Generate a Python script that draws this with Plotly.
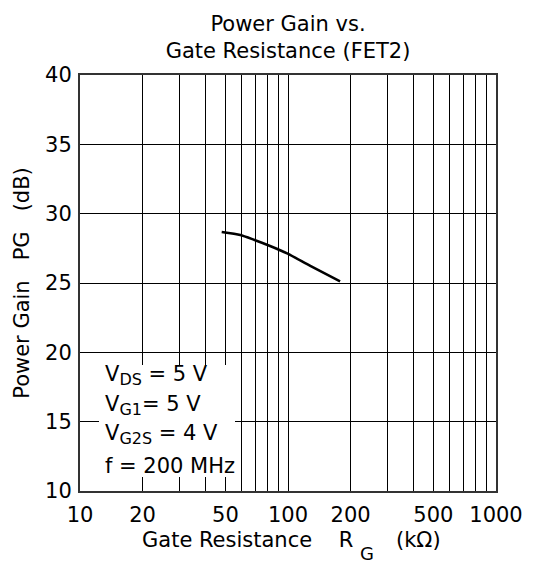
import plotly.graph_objects as go

# Data
rg_kohm = [48, 59, 69, 82, 99, 128, 178]
pg_db = [28.68, 28.46, 28.10, 27.67, 27.14, 26.23, 25.12]

x_grid_vals = [10, 20, 30, 40, 50, 60, 70, 80, 90, 100, 200, 300, 400, 500, 600, 700, 800, 900, 1000]
x_labels = {10: "10", 20: "20", 50: "50", 100: "100", 200: "200", 500: "500", 1000: "1000"}
y_ticks = [10, 15, 20, 25, 30, 35, 40]

SUB = "<sub><span style='font-size:16px'>{}</span></sub>"
cond_lines = [
    "V" + SUB.format("DS") + " = 5 V",
    "V" + SUB.format("G1") + "= 5 V",
    "V" + SUB.format("G2S") + " = 4 V",
    "f = 200 MHz",
]

FONT = "DejaVu Sans, Arial, sans-serif"
FS = 21
NB = "\u00a0"

# plot-area geometry in pixels
L, R, T, B = 80, 45, 75, 72
W, H = 541, 563
PW, PH = W - L - R, H - T - B


def px_x(px):
    return (px - L) / PW


def px_y(py):
    return (H - B - py) / PH


fig = go.Figure()
fig.add_trace(go.Scatter(
    x=rg_kohm, y=pg_db, mode="lines",
    line=dict(color="black", width=2.5, shape="spline", smoothing=0.6),
    hoverinfo="skip", showlegend=False,
))

fig.update_layout(
    width=W, height=H,
    margin=dict(l=L, r=R, t=T, b=B),
    paper_bgcolor="white", plot_bgcolor="white",
    font=dict(family=FONT, size=FS, color="black"),
    title=dict(
        text="Power Gain vs.<br>Gate Resistance (FET2)",
        x=0.5, xanchor="center", xref="paper",
        y=1 - 31 / H, yanchor="middle", yref="container",
        font=dict(family=FONT, size=FS, color="black"),
    ),
    xaxis=dict(
        type="log", range=[1, 3],
        tickvals=x_grid_vals,
        ticktext=[x_labels.get(v, "") for v in x_grid_vals],
        showgrid=True, gridcolor="black", gridwidth=1,
        showline=True, linecolor="#333", linewidth=2, mirror=True,
        ticks="", ticklabelstandoff=4,
        tickfont=dict(size=FS),
        zeroline=False,
    ),
    yaxis=dict(
        range=[10, 40], tickvals=y_ticks,
        showgrid=True, gridcolor="black", gridwidth=1,
        showline=True, linecolor="#333", linewidth=2, mirror=True,
        ticks="", ticklabelstandoff=2,
        tickfont=dict(size=FS),
        zeroline=False,
        title=dict(
            text="Power Gain" + NB * 3 + "PG" + NB * 3 + "(dB)",
            font=dict(size=FS), standoff=10,
        ),
    ),
)

# x-axis title, built from pieces so the subscript G sits below the R
fig.add_annotation(
    text="Gate Resistance" + NB * 4 + "R", xref="paper", yref="paper",
    x=px_x(355), y=0, xanchor="right", yanchor="middle", yshift=-49,
    showarrow=False, font=dict(family=FONT, size=FS, color="black"),
)
fig.add_annotation(
    text="G", xref="paper", yref="paper",
    x=px_x(366.5), y=0, xanchor="center", yanchor="middle", yshift=-62,
    showarrow=False, font=dict(family=FONT, size=18, color="black"),
)
fig.add_annotation(
    text="(k\u03a9)", xref="paper", yref="paper",
    x=px_x(394), y=0, xanchor="left", yanchor="middle", yshift=-49,
    showarrow=False, font=dict(family=FONT, size=FS, color="black"),
)

# white box behind the condition text
fig.add_shape(
    type="rect", xref="paper", yref="paper",
    x0=px_x(99), x1=px_x(235), y0=px_y(477), y1=px_y(365),
    fillcolor="white", line=dict(width=0), layer="above",
)

line_centres = [375.5, 405, 434.5, 465.5]
for txt, cy in zip(cond_lines, line_centres):
    fig.add_annotation(
        text=txt, xref="paper", yref="paper",
        x=px_x(103), y=px_y(cy), xanchor="left", yanchor="middle",
        showarrow=False, font=dict(family=FONT, size=FS, color="black"),
    )

fig.write_html("out.html")
